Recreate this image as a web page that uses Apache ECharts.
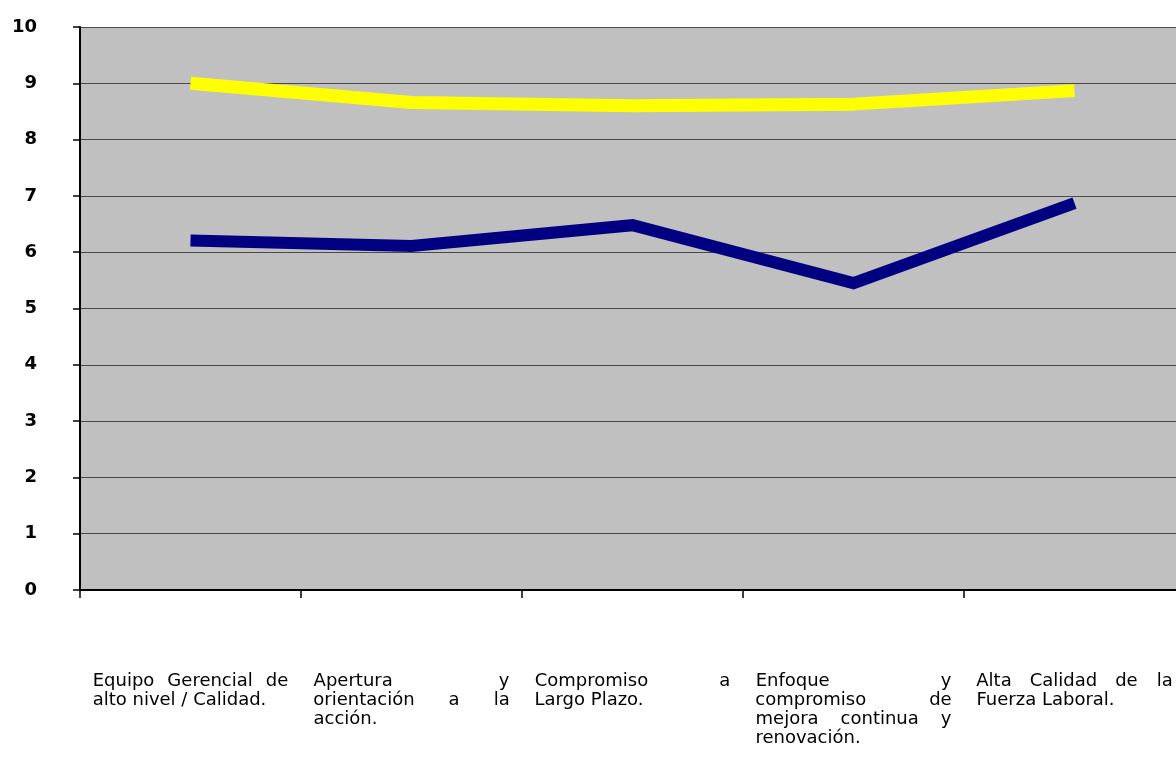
<!DOCTYPE html>
<html>
<head>
<meta charset="utf-8">
<script src="https://cdn.jsdelivr.net/npm/echarts@6/dist/echarts.min.js"></script>
<style>
  html, body { margin: 0; padding: 0; background: #ffffff; }
  #chart { width: 1176px; height: 760px; }
</style>
</head>
<body>
<div id="chart"></div>
<script>
// Categories (line breaks mark where each label wraps)
const categories = [
  'Equipo Gerencial de\nalto nivel / Calidad.',
  'Apertura y\norientación a la\nacción.',
  'Compromiso a\nLargo Plazo.',
  'Enfoque y\ncompromiso de\nmejora continua y\nrenovación.',
  'Alta Calidad de la\nFuerza Laboral.'
];
// Upper (yellow) and lower (navy) series
const yellowValues = [9.0, 8.66, 8.6, 8.63, 8.87];
const navyValues = [6.21, 6.11, 6.48, 5.45, 6.87];
// Y axis ticks
const yMin = 0, yMax = 10, yStep = 1;

const LABEL_FONT = 18;
const LABEL_FAMILY = 'DejaVu Sans';
const BLOCK_W = 196;
const LINE_H = 19;

// Justified category labels built as rich text: every line is padded to the
// same block width so centred labels line up like a justified paragraph.
const measureCtx = document.createElement('canvas').getContext('2d');
measureCtx.font = LABEL_FONT + 'px "' + LABEL_FAMILY + '"';
const rich = {
  t: { fontSize: LABEL_FONT, fontFamily: LABEL_FAMILY, color: '#000', lineHeight: LINE_H }
};
function gapToken(w) {
  const px = Math.max(0, Math.round(w));
  const key = 'g' + px;
  if (!rich[key]) rich[key] = { width: px, fontSize: LABEL_FONT, fontFamily: LABEL_FAMILY, lineHeight: LINE_H };
  return '{' + key + '| }';
}
function justify(label) {
  const lines = label.split('\n');
  return lines.map((line, i) => {
    const words = line.split(' ');
    const widths = words.map(w => measureCtx.measureText(w).width);
    const total = widths.reduce((a, b) => a + b, 0);
    const isLast = i === lines.length - 1;
    if (isLast || words.length === 1) {
      const natural = measureCtx.measureText(line).width;
      return '{t|' + line + '}' + gapToken(BLOCK_W - natural);
    }
    const gap = (BLOCK_W - total) / (words.length - 1);
    let out = '';
    let pos = 0;      // ideal x after the current word
    let placed = 0;   // x actually reached with rounded gaps
    words.forEach((w, k) => {
      out += '{t|' + w + '}';
      pos += widths[k];
      placed += widths[k];
      if (k < words.length - 1) {
        pos += gap;
        const g = Math.round(pos - placed);
        out += gapToken(g);
        placed += g;
      }
    });
    return out;
  }).join('\n');
}
const labelMap = {};
categories.forEach(c => { labelMap[c] = justify(c); });

const chart = echarts.init(document.getElementById('chart'), null, { renderer: 'canvas' });
chart.setOption({
  animation: false,
  backgroundColor: '#ffffff',
  grid: {
    left: 80, top: 27, right: -9, bottom: 170,
    outerBoundsMode: 'none',
    containLabel: false,
    show: true, backgroundColor: '#c0c0c0', borderWidth: 0
  },
  xAxis: {
    type: 'category',
    data: categories,
    boundaryGap: true,
    axisLine: { show: true, lineStyle: { color: '#000', width: 2 } },
    axisTick: { show: true, length: 8, lineStyle: { color: '#000', width: 1.5 } },
    splitLine: { show: false },
    axisLabel: {
      interval: 0,
      margin: 82,
      align: 'center',
      verticalAlign: 'top',
      formatter: v => labelMap[v],
      rich: rich
    }
  },
  yAxis: {
    type: 'value',
    min: yMin, max: yMax, interval: yStep,
    axisLine: { show: true, lineStyle: { color: '#000', width: 2 } },
    axisTick: { show: true, length: 7, lineStyle: { color: '#000', width: 1.5 } },
    splitLine: { show: true, lineStyle: { color: '#4a4a4a', width: 1.2 } },
    axisLabel: {
      margin: 43,
      align: 'right',
      fontSize: 18,
      fontWeight: 'bold',
      fontFamily: LABEL_FAMILY,
      color: '#000'
    }
  },
  series: [
    {
      type: 'line',
      data: yellowValues,
      showSymbol: false,
      lineStyle: { color: '#ffff00', width: 13, cap: 'butt' }
    },
    {
      type: 'line',
      data: navyValues,
      showSymbol: false,
      lineStyle: { color: '#000080', width: 12, cap: 'butt', join: 'miter' }
    }
  ]
});
</script>
</body>
</html>
